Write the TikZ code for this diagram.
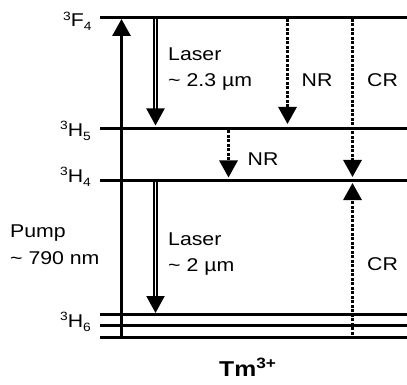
\documentclass[tikz,border=0pt]{standalone}
\usepackage{fontspec}
\setmainfont{Liberation Sans}[FakeStretch=1.15]
\usetikzlibrary{arrows.meta}
\newcommand\lvlname[2]{{\fontsize{12}{12}\selectfont\raisebox{6.8pt}{3}}#1{\fontsize{12}{12}\selectfont\raisebox{-4pt}{#2}}}
\begin{document}
\begin{tikzpicture}[x=1pt,y=-1pt,
  levelline/.style={line width=3pt},
  pumparrow/.style={line width=3pt,-{Triangle[width=18pt,length=17pt]}},
  laserarrow/.style={double, line width=2pt, double distance=1.5pt, -{Triangle[width=18pt,length=17pt]}},
  nrarrow/.style={line width=3pt, dash pattern=on 2.8pt off 1.7pt, -{Triangle[width=18pt,length=17pt]}},
  lbl/.style={inner sep=0pt, font=\fontsize{18.5}{26.3}\selectfont, anchor=base west, align=left},
  lvl/.style={inner sep=0pt, font=\fontsize{18.5}{22}\selectfont, anchor=base west},
]
\useasboundingbox (0,0) rectangle (407,385);
% levels
\coordinate (F4l) at (100,17.5);    \coordinate (F4r) at (407,17.5);
\coordinate (H5l) at (100,128.5);   \coordinate (H5r) at (407,128.5);
\coordinate (H4l) at (100,180.5);   \coordinate (H4r) at (407,180.5);
\coordinate (H6al) at (100,314.5);  \coordinate (H6ar) at (407,314.5);
\coordinate (H6bl) at (100,325.5);  \coordinate (H6br) at (407,325.5);
\coordinate (H6cl) at (100,337.5);  \coordinate (H6cr) at (407,337.5);
\foreach \a in {F4,H5,H4,H6a,H6b,H6c} \draw[levelline] (\a l) -- (\a r);
% level names
\node[lvl] (nF4) at (63,27) {\lvlname{F}{4}};
\node[lvl] (nH5) at (60,136.7) {\lvlname{H}{5}};
\node[lvl] (nH4) at (60,182.7) {\lvlname{H}{4}};
\node[lvl] (nH6) at (60,327) {\lvlname{H}{6}};
% arrow end points
\coordinate (p0) at (121.5,339);  \coordinate (p1) at (121.5,19);
\coordinate (la0) at (155.5,19);  \coordinate (la1) at (155.5,125.5);
\coordinate (lb0) at (155.5,182); \coordinate (lb1) at (155.5,313);
\coordinate (n10) at (287.5,19);  \coordinate (n11) at (287.5,124);
\coordinate (n20) at (228.5,130.5); \coordinate (n21) at (228.5,177.5);
\coordinate (c10) at (352.5,19);  \coordinate (c11) at (352.5,177);
\coordinate (c20) at (352.5,339); \coordinate (c21) at (352.5,183);
\draw[pumparrow] (p0) -- (p1);
\draw[laserarrow] (la0) -- (la1);
\draw[laserarrow] (lb0) -- (lb1);
\draw[nrarrow] (n10) -- (n11);
\draw[nrarrow] (n20) -- (n21);
\draw[nrarrow] (c10) -- (c11);
\draw[nrarrow] (c20) -- (c21);
% labels (base anchor = baseline of the last line)
\node[lbl] (tl1) at (168,87) {Laser\\\textasciitilde{} 2.3 µm};
\node[lbl] (tn1) at (301.5,87) {NR};
\node[lbl] (tc1) at (367,87) {CR};
\node[lbl] (tn2) at (247.5,165) {NR};
\node[lbl] (tp) at (10,264) {Pump\\\textasciitilde{} 790 nm};
\node[lbl] (tl2) at (168,271.5) {Laser\\\textasciitilde{} 2 µm};
\node[lbl] (tc2) at (367,270) {CR};
\node[inner sep=0pt, anchor=base west, font=\fontsize{21.5}{24}\selectfont\bfseries] (tm) at (219,376.7) {Tm{\fontsize{15}{15}\selectfont\raisebox{8.7pt}{3+}}};
\end{tikzpicture}
\end{document}
